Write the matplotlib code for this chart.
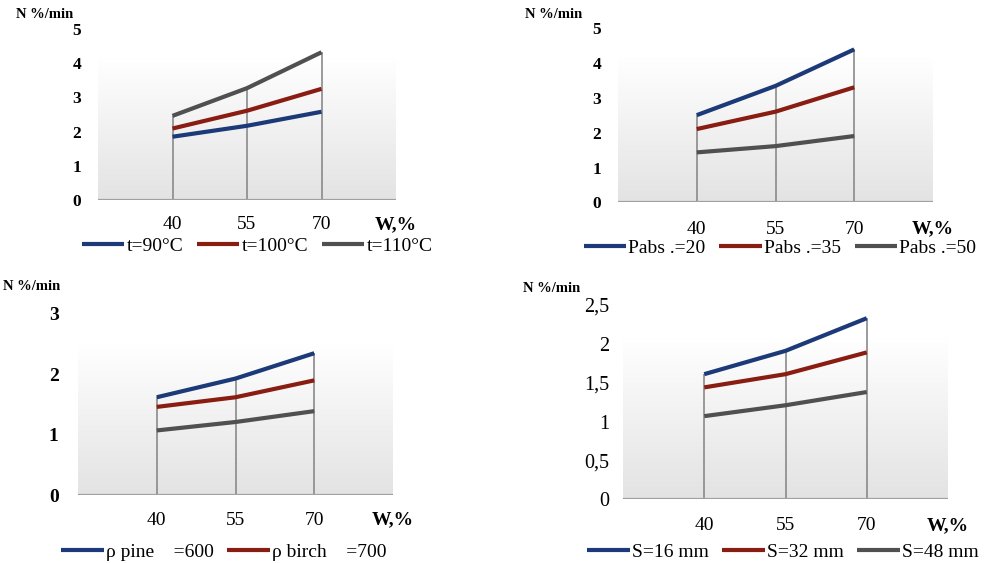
import matplotlib
matplotlib.use("Agg")
import matplotlib.pyplot as plt
import numpy as np
from matplotlib.colors import LinearSegmentedColormap

plt.rcParams['font.family'] = ['Liberation Serif', 'DejaVu Serif']

# ---------------- data ----------------
categories = ["40", "55", "70"]
x_axis_label = "W,%"
y_axis_label = "N %/min"

# Panel 1: temperature
p1_labels = ["t=90°C", "t=100°C", "t=110°C"]
p1_t90 = [1.85, 2.17, 2.58]
p1_t100 = [2.09, 2.61, 3.25]
p1_t110 = [2.46, 3.27, 4.32]
p1_yticks = [0, 1, 2, 3, 4, 5]
p1_yticklabels = ["0", "1", "2", "3", "4", "5"]

# Panel 2: absolute pressure
p2_labels = ["Pabs .=20", "Pabs .=35", "Pabs .=50"]
p2_p20 = [2.51, 3.35, 4.40]
p2_p35 = [2.11, 2.61, 3.31]
p2_p50 = [1.44, 1.62, 1.91]
p2_yticks = [0, 1, 2, 3, 4, 5]
p2_yticklabels = ["0", "1", "2", "3", "4", "5"]

# Panel 3: wood density
p3_labels = ["ρ pine    =600", "ρ birch    =700", "_nolegend_"]
p3_pine = [1.62, 1.93, 2.35]
p3_birch = [1.46, 1.62, 1.90]
p3_third = [1.07, 1.21, 1.39]
p3_yticks = [0, 1, 2, 3]
p3_yticklabels = ["0", "1", "2", "3"]

# Panel 4: thickness
p4_labels = ["S=16 mm", "S=32 mm", "S=48 mm"]
p4_s16 = [1.61, 1.91, 2.33]
p4_s32 = [1.44, 1.61, 1.89]
p4_s48 = [1.07, 1.21, 1.38]
p4_yticks = [0, 0.5, 1, 1.5, 2, 2.5]
p4_yticklabels = ["0", "0,5", "1", "1,5", "2", "2,5"]

# ---------------- style ----------------
colors = ["#1c3a78", "#8a1d12", "#505050"]
W, H = 987, 563
fig = plt.figure(figsize=(W / 100, H / 100), dpi=100)
grad_cmap = LinearSegmentedColormap.from_list("g", ["#e3e3e3", "#ffffff"])


def px_axes(x0, x1, y_bottom, y_top):
    return fig.add_axes([x0 / W, 1 - y_bottom / H, (x1 - x0) / W, (y_bottom - y_top) / H])


def draw_panel(rect, series, labels, yticks, yticklabels, ytick_bold, ytick_size,
               ylab_xy, leg_xy, ytick_pad, xtick_pad):
    ax = px_axes(*rect)
    ymax = yticks[-1]
    xpos = np.arange(len(categories))
    ax.set_xlim(-1, 3)
    ax.set_ylim(0, ymax)
    # gradient background
    grad = np.linspace(0, 1, 256).reshape(-1, 1)
    ax.imshow(grad, extent=(-1, 3, 0, ymax * 0.83), origin="lower", aspect="auto",
              cmap=grad_cmap, zorder=0, interpolation="bilinear")
    # drop lines
    tops = np.max(np.array(series), axis=0)
    ax.vlines(xpos, 0, tops, colors="#8a8a8a", lw=1.2, zorder=1)
    ax.axhline(0, color="#a0a0a0", lw=1.6, zorder=1)
    for s, lab, c in zip(series, labels, colors):
        ax.plot(xpos, s, color=c, lw=3.0, label=lab, zorder=3, solid_capstyle="butt")
    for sp in ax.spines.values():
        sp.set_visible(False)
    ax.set_xticks(xpos)
    ax.set_xticklabels(categories, fontsize=14)
    ax.set_yticks(yticks)
    ax.set_yticklabels(yticklabels, fontsize=ytick_size,
                       fontweight="bold" if ytick_bold else "normal")
    ax.tick_params(axis="x", length=0, pad=xtick_pad)
    ax.tick_params(axis="y", length=0, pad=ytick_pad)
    ax.set_facecolor("none")
    # W,% label at right end of axis, level with the category labels
    ax.annotate(x_axis_label, xy=(3, 0), xycoords=("data", "data"),
                xytext=(0, -xtick_pad), textcoords="offset points",
                ha="center", va="top", fontsize=14, fontweight="bold")
    fig.text(ylab_xy[0] / W, 1 - ylab_xy[1] / H, y_axis_label, ha="center", va="center",
             fontsize=10.5, fontweight="bold")
    handles, labs = ax.get_legend_handles_labels()
    fig.legend(handles, labs, loc="center", bbox_to_anchor=(leg_xy[0] / W, 1 - leg_xy[1] / H),
               ncol=len(handles), frameon=False, fontsize=14, handlelength=2.2,
               handletextpad=0.1, columnspacing=0.7, borderaxespad=0, borderpad=0)
    return ax


draw_panel((98, 396, 200, 29), [p1_t90, p1_t100, p1_t110], p1_labels,
           p1_yticks, p1_yticklabels, True, 12.5, (45, 15), (257, 246), 12, 11.5)
draw_panel((618, 933, 202.5, 28.5), [p2_p20, p2_p35, p2_p50], p2_labels,
           p2_yticks, p2_yticklabels, True, 12.5, (554, 15), (780, 248), 12, 13)
draw_panel((78, 393, 495, 314), [p3_pine, p3_birch, p3_third], p3_labels,
           p3_yticks, p3_yticklabels, True, 14, (32, 287), (224, 552), 14, 12)
draw_panel((623, 948, 499.3, 305), [p4_s16, p4_s32, p4_s48], p4_labels,
           p4_yticks, p4_yticklabels, False, 14.5, (552, 288), (783, 552), 10, 13)

fig.savefig("out.png", dpi=100, facecolor="white")
